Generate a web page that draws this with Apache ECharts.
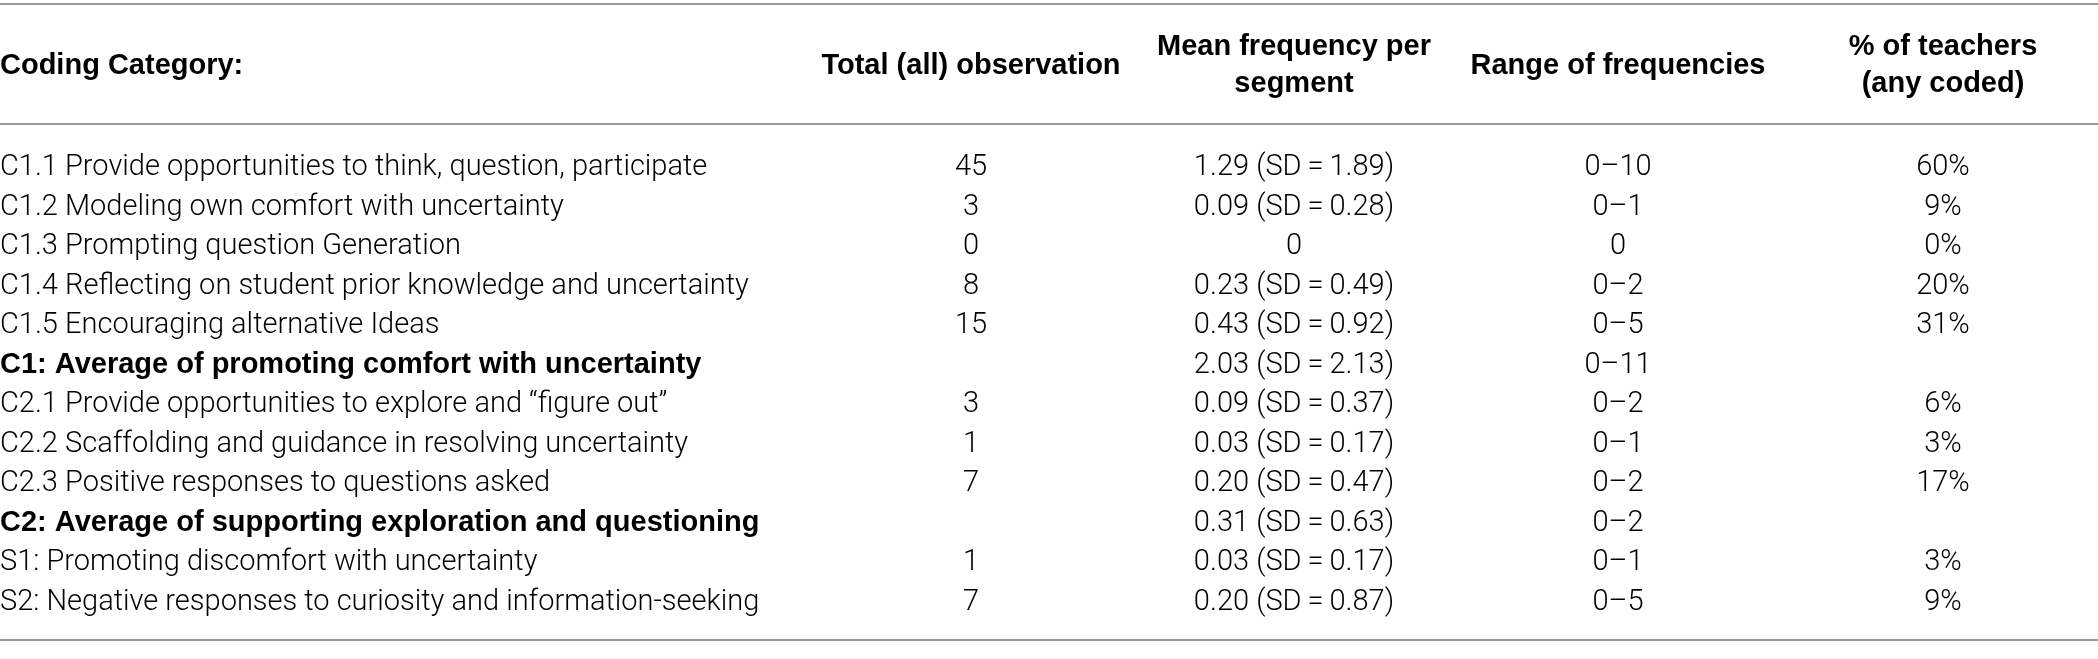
<!DOCTYPE html>
<html>
<head>
<meta charset="utf-8">
<script src="https://cdn.jsdelivr.net/npm/echarts@6/dist/echarts.min.js"></script>
<style>
html,body{margin:0;padding:0;background:#fff;}
#chart{width:2098px;height:659px;}
</style>
</head>
<body>
<div id="chart"></div>
<script>
// table content
var headers = ['Coding Category:', 'Total (all) observation', 'Mean frequency per\nsegment', 'Range of frequencies', '% of teachers\n(any coded)'];
var categories = [
    'C1.1 Provide opportunities to think, question, participate',
    'C1.2 Modeling own comfort with uncertainty',
    'C1.3 Prompting question Generation',
    'C1.4 Reflecting on student prior knowledge and uncertainty',
    'C1.5 Encouraging alternative Ideas',
    'C1: Average of promoting comfort with uncertainty',
    'C2.1 Provide opportunities to explore and \u201cfigure out\u201d',
    'C2.2 Scaffolding and guidance in resolving uncertainty',
    'C2.3 Positive responses to questions asked',
    'C2: Average of supporting exploration and questioning',
    'S1: Promoting discomfort with uncertainty',
    'S2: Negative responses to curiosity and information-seeking'
];
var boldRows = [5, 9];
var totals = [45, 3, 0, 8, 15, null, 3, 1, 7, null, 1, 7];
var means = [1.29, 0.09, 0, 0.23, 0.43, 2.03, 0.09, 0.03, 0.20, 0.31, 0.03, 0.20];
var sds = [1.89, 0.28, null, 0.49, 0.92, 2.13, 0.37, 0.17, 0.47, 0.63, 0.17, 0.87];
var rangeLow = [0, 0, 0, 0, 0, 0, 0, 0, 0, 0, 0, 0];
var rangeHigh = [10, 1, 0, 2, 5, 11, 2, 1, 2, 2, 1, 5];
var percents = [60, 9, 0, 20, 31, null, 6, 3, 17, null, 3, 9];

// layout
var W = 2098;
var colX = [0, 971, 1294, 1618, 1943];
var colAlign = ['left', 'center', 'center', 'center', 'center'];
var LIGHT = {fontFamily: 'Roboto', fontSize: 29, fontWeight: 300};
var BOLD = {fontFamily: '"Liberation Sans", Arial, sans-serif', fontSize: 29, fontWeight: 'bold'};
var TEXT = '#000';
var RULE = '#999';

function cellTexts(i){
    var mean = (sds[i] == null) ? String(means[i]) : means[i].toFixed(2) + ' (SD\u2009=\u2009' + sds[i].toFixed(2) + ')';
    var range = rangeHigh[i] === rangeLow[i] ? String(rangeLow[i]) : rangeLow[i] + '\u2013' + rangeHigh[i];
    return [
        categories[i],
        totals[i] == null ? '' : String(totals[i]),
        mean,
        range,
        percents[i] == null ? '' : percents[i] + '%'
    ];
}

// isBold(c) tells which cells of the row use the bold face
function rowItem(texts, api, row, isBold){
    var children = [];
    for(var c=0;c<texts.length;c++){
        if(!texts[c]) continue;
        var p = api.coord([colX[c], row]);
        var f = isBold(c) ? BOLD : LIGHT;
        children.push({
            type: 'text',
            x: p[0],
            y: p[1],
            style: {
                text: texts[c],
                x: 0,
                y: 0,
                align: colAlign[c],
                verticalAlign: 'middle',
                fontFamily: f.fontFamily,
                fontSize: f.fontSize,
                fontWeight: f.fontWeight,
                lineHeight: 37,
                fill: TEXT
            }
        });
    }
    return {type: 'group', children: children};
}

var chart = echarts.init(document.getElementById('chart'));
var option = {
    animation: false,
    backgroundColor: '#fff',
    grid: [
        {left: 0, right: 0, top: 148, bottom: 37},
        {left: 0, right: 0, top: 6, height: 119}
    ],
    xAxis: [
        {type: 'value', gridIndex: 0, min: 0, max: W, show: false},
        {type: 'value', gridIndex: 1, min: 0, max: W, show: false}
    ],
    yAxis: [
        {type: 'category', gridIndex: 0, inverse: true, data: categories, show: false},
        {type: 'category', gridIndex: 1, data: ['header'], show: false}
    ],
    graphic: [
        {type: 'line', silent: true, shape: {x1: 0, y1: 4, x2: W, y2: 4}, style: {stroke: RULE, lineWidth: 2}},
        {type: 'line', silent: true, shape: {x1: 0, y1: 124, x2: W, y2: 124}, style: {stroke: RULE, lineWidth: 2}},
        {type: 'line', silent: true, shape: {x1: 0, y1: 640, x2: W, y2: 640}, style: {stroke: RULE, lineWidth: 2}}
    ],
    series: [
        {
            type: 'custom',
            xAxisIndex: 1,
            yAxisIndex: 1,
            silent: true,
            data: [[0]],
            renderItem: function(params, api){
                return rowItem(headers, api, 0, function(){ return true; });
            }
        },
        {
            type: 'custom',
            xAxisIndex: 0,
            yAxisIndex: 0,
            silent: true,
            data: categories.map(function(c, i){ return [i]; }),
            renderItem: function(params, api){
                var i = api.value(0);
                var bold = boldRows.indexOf(i) >= 0;
                return rowItem(cellTexts(i), api, i, function(c){ return bold && c === 0; });
            }
        }
    ]
};
chart.setOption(option);
</script>
</body>
</html>
